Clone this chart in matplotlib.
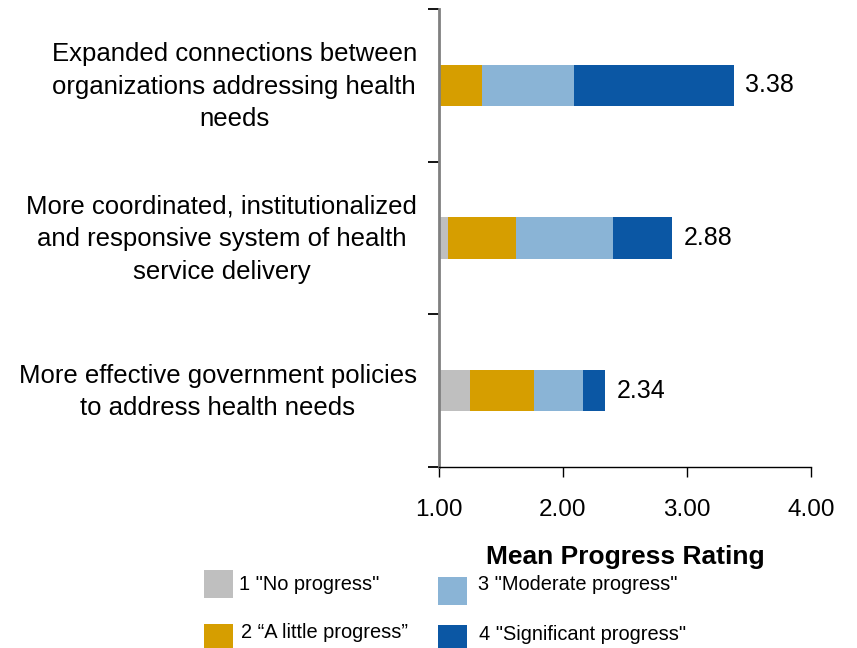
import matplotlib
matplotlib.use("Agg")
import matplotlib.pyplot as plt
from matplotlib.patches import Rectangle
from matplotlib.transforms import ScaledTranslation
import numpy as np

plt.rcParams['font.family'] = ['Liberation Sans', 'DejaVu Sans']

categories = [
    "Expanded connections between\norganizations addressing health\nneeds",
    "More coordinated, institutionalized\nand responsive system of health\nservice delivery",
    "More effective government policies\nto address health needs",
]
series_names = ['1 "No progress"', '2 \u201cA little progress\u201d',
                '3 "Moderate progress"', '4 "Significant progress"']
no_progress = [0.00, 0.07, 0.25]
little_progress = [0.35, 0.55, 0.52]
moderate_progress = [0.74, 0.78, 0.39]
significant_progress = [1.29, 0.48, 0.18]
mean_labels = ["3.38", "2.88", "2.34"]
xtick_values = [1.0, 2.0, 3.0, 4.0]
xtick_labels = ["1.00", "2.00", "3.00", "4.00"]

colors = ["#BFBFBF", "#D69E00", "#8AB4D6", "#0B57A4"]

fig = plt.figure(figsize=(8.57, 6.48), dpi=100)
W, H = 857, 648
ax = fig.add_axes([439 / W, 1 - 467 / H, (811 - 439) / W, (467 - 9) / H])

y = np.arange(len(categories))
left = np.ones(len(categories))
for vals, col in zip([no_progress, little_progress, moderate_progress, significant_progress], colors):
    ax.barh(y, vals, left=left, height=0.27, color=col, edgecolor='none')
    left = left + np.array(vals)

for yi, end, lab in zip(y, left, mean_labels):
    ax.text(end + 0.09, yi, lab, va='center', ha='left', fontsize=18, color='black')

ax.set_xlim(1, 4)
ax.set_ylim(2.5, -0.5)
ax.set_xticks(xtick_values)
ax.set_xticklabels(xtick_labels, fontsize=17.5)
ax.set_yticks([-0.5, 0.5, 1.5, 2.5])
ax.set_yticklabels([])
ax.set_yticks(y, minor=True)
ax.set_yticklabels(categories, minor=True, fontsize=18.5, multialignment='center',
                   linespacing=1.45)
ax.tick_params(axis='y', which='minor', length=0, pad=16)
ax.tick_params(axis='y', which='major', length=8, width=1.3, color='black', direction='out')
ax.tick_params(axis='x', length=7, width=1, color='black', direction='out', pad=16)

shift = ScaledTranslation(0, 5.5 / 100, fig.dpi_scale_trans)
for lab in ax.get_yticklabels(minor=True):
    lab.set_transform(lab.get_transform() + shift)

for s in ['top', 'right']:
    ax.spines[s].set_visible(False)
ax.spines['left'].set_color('#808080')
ax.spines['left'].set_linewidth(2)
ax.spines['bottom'].set_color('black')
ax.spines['bottom'].set_linewidth(1)

ax.set_xlabel("Mean Progress Rating", fontsize=19, fontweight='bold', labelpad=17.5)

# legend
legend_pos = [(204, 570, 239, 584), (204, 624, 241, 632), (438, 577, 478, 585), (438, 625, 479, 634)]
for (sx, sy, tx, ty), col, name in zip(legend_pos, colors, series_names):
    fig.add_artist(Rectangle((sx / W, 1 - (sy + 28) / H), 29 / W, 28 / H,
                             transform=fig.transFigure, facecolor=col, edgecolor='none'))
    fig.text(tx / W, 1 - ty / H, name, ha='left', va='center', fontsize=14.4)

fig.savefig("out.png", dpi=100)
